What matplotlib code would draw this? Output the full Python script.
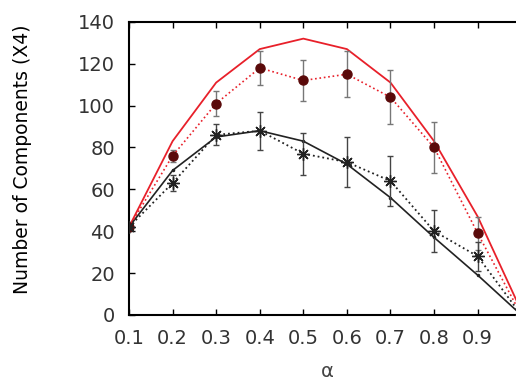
import matplotlib
matplotlib.use('Agg')
import matplotlib.pyplot as plt
import numpy as np

plt.rcParams['font.family'] = ['DejaVu Sans']

# data
alpha = [0.1, 0.2, 0.3, 0.4, 0.5, 0.6, 0.7, 0.8, 0.9, 1.0]
red_theory = [42, 83, 111, 127, 132, 127, 111, 83, 47, 2]
red_sim = [42, 76, 101, 118, 112, 115, 104, 80, 39, 0]
red_err = [0, 3, 6, 8, 10, 11, 13, 12, 8, 0]
black_theory = [42, 69, 85, 88, 83, 72, 56, 37, 19, 0]
black_sim = [42, 63, 86, 88, 77, 73, 64, 40, 28, 0]
black_err = [0, 4, 5, 9, 10, 12, 12, 10, 7, 0]
yticks = [0, 20, 40, 60, 80, 100, 120, 140]
xticks = [0.1, 0.2, 0.3, 0.4, 0.5, 0.6, 0.7, 0.8, 0.9]

fig = plt.figure(figsize=(5.16, 3.84), dpi=100)
ax = fig.add_axes([0.25, 0.18, 0.75, 0.763])

ax.plot(alpha, red_theory, color='#e8202a', lw=1.3, zorder=3)
ax.errorbar(alpha, red_sim, yerr=red_err, color='#e8202a', ls=':', lw=1.2,
            marker='o', ms=6.5, mfc='#5a0a0a', mec='#5a0a0a',
            ecolor='#777777', elinewidth=1.0, capsize=2, zorder=4)
ax.plot(alpha, black_theory, color='#222222', lw=1.2, marker='.', ms=3, zorder=3)
ax.errorbar(alpha, black_sim, yerr=black_err, color='#222222', ls=':', lw=1.3,
            marker=(8, 2, 0), ms=9, mew=1.0,
            ecolor='#444444', elinewidth=1.0, capsize=2, zorder=4)

ax.set_xlim(0.1, 0.988)
ax.set_ylim(0, 140)
ax.set_xticks(xticks)
ax.set_xticklabels([f'{v:.1f}' for v in xticks])
ax.set_yticks(yticks)
ax.tick_params(direction='in', length=4, width=1, labelsize=14,
               top=True, right=False, labelcolor='#333333')
ax.tick_params(axis='x', pad=10)
ax.tick_params(axis='y', pad=10)
ax.spines['right'].set_visible(False)
for s in ['left', 'bottom', 'top']:
    ax.spines[s].set_linewidth(1.5)

ax.set_xlabel('α', fontsize=14, color='#444444')
ax.xaxis.set_label_coords(0.512, -0.162)
ax.set_ylabel('Number of Components (X4)', fontsize=13.5)
ax.yaxis.set_label_coords(-0.25, 0.53)

fig.savefig('out.png', dpi=100, facecolor='white')
